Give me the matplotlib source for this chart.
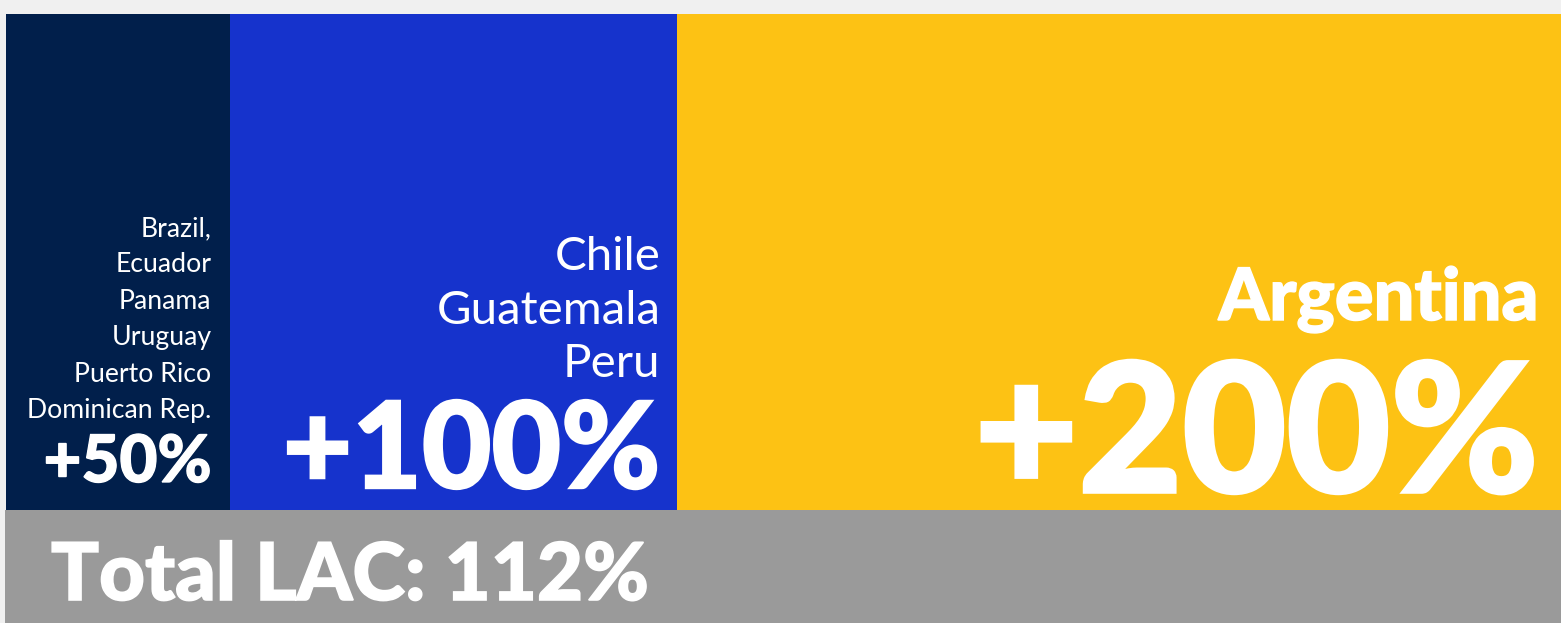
import matplotlib
matplotlib.use("Agg")
import matplotlib.pyplot as plt
from matplotlib import transforms
from matplotlib import patheffects
from matplotlib.patches import Rectangle

# Data
group_names = [
    ["Brazil,", "Ecuador", "Panama", "Uruguay", "Puerto Rico", "Dominican Rep."],
    ["Chile", "Guatemala", "Peru"],
    ["Argentina"],
]
increase = [50, 100, 200]
total_name = "Total LAC"
total_increase = 112

colors = ["#011f4b", "#1633cc", "#fdc214"]
total_color = "#9a9a9a"
bg = "#f0f0f0"

W, H = 1561, 623
DPI = 100
fig = plt.figure(figsize=(W / DPI, H / DPI), dpi=DPI, facecolor=bg)


def fy(py):
    return 1 - py / H


# Block axes: widths proportional to the increase
px_per_unit = 4.47
left_px, top_px, bottom_px = 6, 14, 510
ax = fig.add_axes([left_px / W, fy(bottom_px),
                   sum(increase) * px_per_unit / W, (bottom_px - top_px) / H])
ax.set_xlim(0, sum(increase))
ax.set_ylim(0, 1)
ax.axis("off")

lefts = [sum(increase[:i]) for i in range(len(increase))]
ax.bar(lefts, [1] * len(increase), width=increase, align="edge",
       color=colors, linewidth=0)

# Total strip along the bottom
fig.patches.append(Rectangle((5 / W, 0), 1 - 5 / W, (H - bottom_px) / H,
                             transform=fig.transFigure, color=total_color,
                             linewidth=0, zorder=0))

renderer = fig.canvas.get_renderer()


def fit(texts, target_w):
    """Scale a group of texts so the widest one spans target_w pixels."""
    for _ in range(3):
        w = max(t.get_window_extent(renderer).width for t in texts)
        for t in texts:
            t.set_fontsize(t.get_fontsize() * target_w / w)


def heavy(t, k=0.02):
    """Thicken a bold label with a white outline scaled to its size."""
    t.set_path_effects([patheffects.Stroke(linewidth=t.get_fontsize() * k,
                                           foreground="white",
                                           joinstyle="miter"),
                        patheffects.Normal()])


# Label layout per block (pixels)
layout = [
    dict(pad=18, name_w=185, name_base=236, name_step=36.4, name_weight="normal",
         value_w=168, value_base=482),
    dict(pad=16, name_w=224, name_base=270, name_step=53.5, name_weight="normal",
         value_w=378, value_base=488),
    dict(pad=32, name_w=320, name_base=320, name_step=0, name_weight="black",
         value_w=564, value_base=492),
]

blend = transforms.blended_transform_factory(ax.transData, fig.transFigure)

for left, val, names, lay in zip(lefts, increase, group_names, layout):
    right = left + val
    tr = transforms.offset_copy(blend, fig=fig, x=-lay["pad"], y=0, units="dots")
    name_texts = []
    for i, name in enumerate(names):
        t = fig.text(right, fy(lay["name_base"] + i * lay["name_step"]), name,
                     transform=tr, ha="right", va="baseline", color="white",
                     family="Lato", weight=lay["name_weight"], fontsize=20)
        name_texts.append(t)
    fit(name_texts, lay["name_w"])
    if lay["name_weight"] == "black":
        for t in name_texts:
            heavy(t)
    vt = fig.text(right, fy(lay["value_base"]), f"+{val}%", transform=tr,
                  ha="right", va="baseline", color="white", family="Lato",
                  weight="black", fontsize=40)
    fit([vt], lay["value_w"])
    heavy(vt)

tt = fig.text(51 / W, fy(600), f"{total_name}: {total_increase}%", ha="left",
              va="baseline", color="white", family="Lato", weight="black",
              fontsize=50)
fit([tt], 598)
heavy(tt)

fig.savefig("out.png", dpi=DPI, facecolor=bg)
